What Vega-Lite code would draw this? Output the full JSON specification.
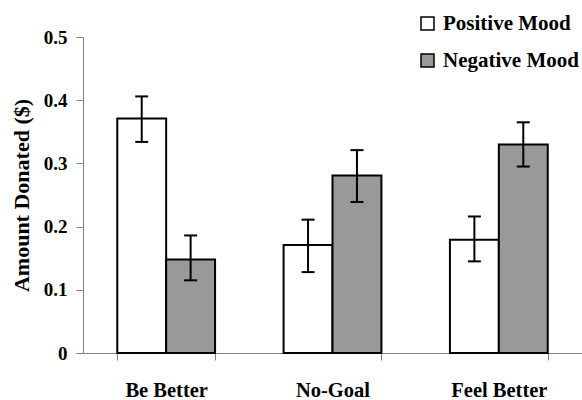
{
  "$schema": "https://vega.github.io/schema/vega-lite/v6.json",
  "width": 499,
  "height": 316,
  "autosize": {"type": "none"},
  "padding": {"left": 83, "top": 37, "right": 0, "bottom": 47},
  "config": {"view": {"stroke": null}, "font": "Liberation Serif"},
  "data": {"values": [
    {"goal": "Be Better", "mood": "Positive Mood", "mean": 0.371, "lo": 0.334, "hi": 0.406},
    {"goal": "Be Better", "mood": "Negative Mood", "mean": 0.148, "lo": 0.115, "hi": 0.186},
    {"goal": "No-Goal", "mood": "Positive Mood", "mean": 0.171, "lo": 0.128, "hi": 0.211},
    {"goal": "No-Goal", "mood": "Negative Mood", "mean": 0.281, "lo": 0.239, "hi": 0.321},
    {"goal": "Feel Better", "mood": "Positive Mood", "mean": 0.179, "lo": 0.145, "hi": 0.216},
    {"goal": "Feel Better", "mood": "Negative Mood", "mean": 0.330, "lo": 0.295, "hi": 0.365}
  ]},
  "encoding": {
    "x": {
      "field": "goal", "type": "nominal",
      "sort": ["Be Better", "No-Goal", "Feel Better"],
      "scale": {"paddingInner": 0.412, "paddingOuter": 0.206},
      "axis": {
        "title": null, "labelAngle": 0, "labelFont": "Liberation Serif", "labelFontSize": 20.5,
        "labelFontWeight": "bold", "labelColor": "black", "labelPadding": 20,
        "tickBand": "extent", "tickSize": 7, "tickColor": "#808080", "domainColor": "#808080",
        "grid": false
      }
    },
    "xOffset": {"field": "mood", "sort": ["Positive Mood", "Negative Mood"], "scale": {"paddingInner": 0, "paddingOuter": 0}}
  },
  "layer": [
    {
      "mark": {"type": "bar", "stroke": "black", "strokeWidth": 2},
      "encoding": {
        "y": {
          "field": "mean", "type": "quantitative",
          "scale": {"domain": [0, 0.5]},
          "axis": {
            "title": "Amount Donated ($)", "titleFont": "Liberation Serif", "titleFontSize": 22,
            "titleFontWeight": "bold", "titleColor": "black", "titlePadding": 10,
            "values": [0, 0.1, 0.2, 0.3, 0.4, 0.5], "format": "~g",
            "labelFont": "Liberation Serif", "labelFontSize": 19, "labelFontWeight": "bold",
            "labelColor": "black", "labelPadding": 9, "tickSize": 7, "tickColor": "#808080",
            "domainColor": "#808080", "grid": false
          }
        },
        "fill": {
          "field": "mood", "type": "nominal",
          "scale": {"domain": ["Positive Mood", "Negative Mood"], "range": ["#ffffff", "#999999"]},
          "legend": {
            "orient": "none", "legendX": 334, "legendY": -24, "title": null,
            "symbolType": "square", "symbolSize": 169, "symbolStrokeColor": "black",
            "symbolStrokeWidth": 1.5, "labelFont": "Liberation Serif", "labelFontSize": 21,
            "labelFontWeight": "bold", "labelColor": "black", "rowPadding": 15, "labelOffset": 5
          }
        }
      }
    },
    {
      "mark": {"type": "rule", "strokeWidth": 2, "color": "black"},
      "encoding": {"y": {"field": "lo", "type": "quantitative"}, "y2": {"field": "hi"}}
    },
    {
      "mark": {"type": "tick", "thickness": 2, "size": 13, "color": "black", "opacity": 1},
      "encoding": {"y": {"field": "lo", "type": "quantitative"}}
    },
    {
      "mark": {"type": "tick", "thickness": 2, "size": 13, "color": "black", "opacity": 1},
      "encoding": {"y": {"field": "hi", "type": "quantitative"}}
    }
  ]
}
